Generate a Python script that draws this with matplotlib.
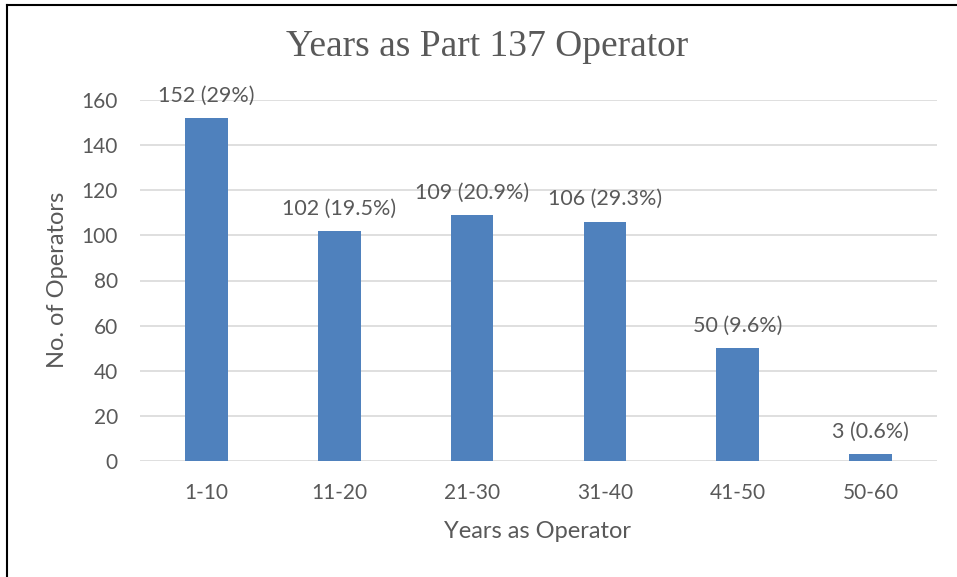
import matplotlib
matplotlib.use('Agg')
import matplotlib.pyplot as plt
from matplotlib.lines import Line2D

categories = ['1-10', '11-20', '21-30', '31-40', '41-50', '50-60']
operators = [152, 102, 109, 106, 50, 3]
pct_labels = ['29%', '19.5%', '20.9%', '29.3%', '9.6%', '0.6%']

txt = '#595959'
sans = 'Lato'

fig = plt.figure(figsize=(9.57, 5.77), dpi=100)
ax = fig.add_axes([140/957, 1 - 461/577, (937-140)/957, (461-100)/577])

x = range(len(categories))
ax.bar(x, operators, width=0.32, color='#4f81bd', zorder=3)
for xi, v, p in zip(x, operators, pct_labels):
    ax.annotate(f'{v} ({p})', (xi, v), xytext=(0, 9), textcoords='offset points',
                ha='center', va='bottom', fontsize=15.5, color=txt, family=sans)

ax.set_xlim(-0.5, len(categories) - 0.5)
ax.set_ylim(0, 160)
ax.set_yticks(range(0, 161, 20))
ax.set_xticks(list(x))
ax.set_xticklabels(categories)
ax.grid(axis='y', color='#d9d9d9', linewidth=1.2, zorder=0)
for s in ax.spines.values():
    s.set_visible(False)
ax.tick_params(length=0, labelsize=15, labelcolor=txt)
ax.tick_params(axis='y', pad=16)
ax.tick_params(axis='x', pad=16)
for lab in ax.get_xticklabels() + ax.get_yticklabels():
    lab.set_family(sans)

fig.text(487/957, 1 - 47/577, 'Years as Part 137 Operator', ha='center', va='center',
         fontsize=27, color=txt, family='Liberation Serif')
fig.text(58/957, 1 - 280/577, 'No. of Operators', rotation=90, ha='center', va='center',
         fontsize=17, color=txt, family=sans)
fig.text(538/957, 1 - 531/577, 'Years as Operator', ha='center', va='center',
         fontsize=17, color=txt, family=sans)

# border of the chart frame (left and top only)
fig.add_artist(Line2D([7.5/957, 7.5/957], [0, 1 - 4.5/577], color='black', lw=1.5))
fig.add_artist(Line2D([7.5/957, 1], [1 - 4.5/577, 1 - 4.5/577], color='black', lw=1.5))

fig.savefig('out.png', dpi=100)
